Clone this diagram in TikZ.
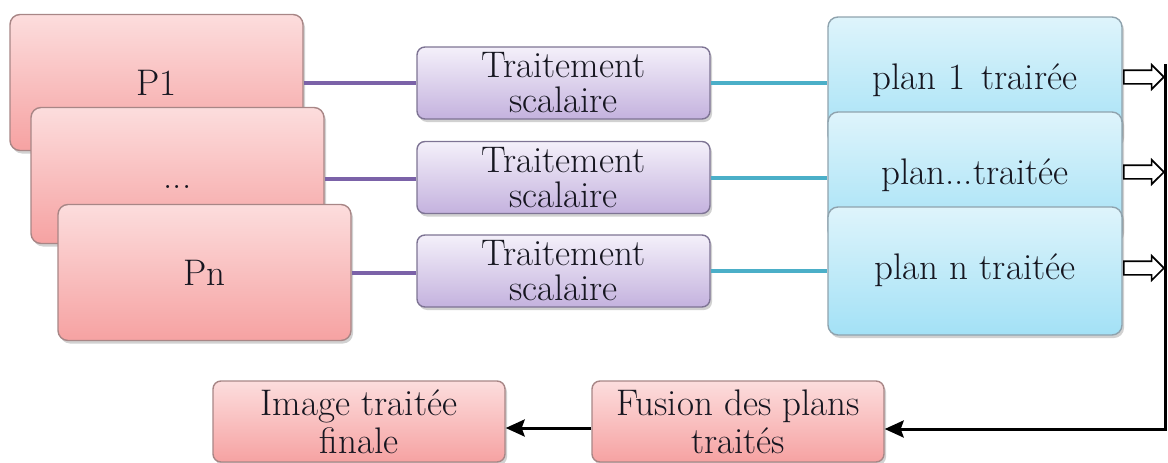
\documentclass[tikz,border=0pt]{standalone}
\usetikzlibrary{shapes.arrows,shadows,arrows.meta}

\definecolor{pinkTop}{HTML}{FCDDDD}
\definecolor{pinkBot}{HTML}{F6A2A2}
\definecolor{pinkEdge}{HTML}{A88686}
\definecolor{lilacTop}{HTML}{F4F0FA}
\definecolor{lilacBot}{HTML}{C4B2DE}
\definecolor{lilacEdge}{HTML}{7E7494}
\definecolor{skyTop}{HTML}{DEF4FB}
\definecolor{skyBot}{HTML}{A3E1F6}
\definecolor{skyEdge}{HTML}{8FA3AE}
\definecolor{violetLink}{HTML}{7B62A8}
\definecolor{tealLink}{HTML}{4BAFC8}
\definecolor{ink}{HTML}{161620}

\begin{document}
\begin{tikzpicture}[x=1pt,y=-1pt,
  box/.style={rectangle, rounded corners=10pt, line width=1.4pt, inner sep=0pt,
    text=ink, font=\rmfamily\fontsize{37}{35}\selectfont,
    drop shadow={shadow xshift=2pt, shadow yshift=-3pt, opacity=0.3, fill=black!60}},
  plane/.style={box, top color=pinkTop, bottom color=pinkBot, draw=pinkEdge,
    minimum width=293pt, minimum height=136pt, text height=26pt, text depth=0pt},
  scalar/.style={box, rounded corners=8pt, top color=lilacTop, bottom color=lilacBot,
    draw=lilacEdge, minimum width=293pt, minimum height=72pt, align=center},
  result/.style={box, top color=skyTop, bottom color=skyBot, draw=skyEdge,
    minimum width=294pt, minimum height=128pt, text height=26pt, text depth=9pt},
  finalbox/.style={box, rounded corners=8pt, top color=pinkTop, bottom color=pinkBot,
    draw=pinkEdge, minimum width=292pt, minimum height=81pt, align=center,
    font=\rmfamily\fontsize{37}{38}\selectfont},
  hollowarrow/.style={single arrow, draw=black, fill=white, line width=1.6pt,
    minimum height=40pt, inner xsep=0pt, inner ysep=6pt,
    single arrow head extend=5.5pt},
  violetwire/.style={draw=violetLink, line width=4pt},
  tealwire/.style={draw=tealLink, line width=4pt},
  flow/.style={draw=black, line width=3pt,
    -{Stealth[length=19pt,width=17pt,inset=3pt]}}
]
\useasboundingbox (0,0) rectangle (1168,463);

% input planes, stacked
\node[plane] (p1) at (156.5,82.5) {P1};
\node[plane] (pdots) at (177.5,175.5) {...};
\node[plane] (pn) at (204.5,272.5) {Pn};

% scalar processing of each plane
\node[scalar] (t1) at (563.5,83) {Traitement\\scalaire};
\node[scalar] (t2) at (563.5,177.5) {Traitement\\scalaire};
\node[scalar] (t3) at (563.5,271) {Traitement\\scalaire};

% processed planes, stacked
\node[result] (b1) at (975,81) {plan 1\hspace{0.45em}trairée};
\node[result] (b2) at (975,176) {plan...traitée};
\node[result] (b3) at (975,271) {plan n traitée};

% merging and final image
\node[finalbox] (fusion) at (738,421.5) {Fusion des plans\\traités};
\node[finalbox] (img) at (359,421.5) {Image traitée\\finale};

% links plane -> scalar processing -> processed plane
\draw[violetwire] (p1.east) -- (p1.east -| t1.west);
\draw[violetwire] ([yshift=-3pt]pdots.east) -- ([yshift=-3pt]pdots.east -| t2.west);
\draw[violetwire] (pn.east) -- (pn.east -| t3.west);
\draw[tealwire] (t1.east) -- (t1.east -| b1.west);
\draw[tealwire] (t2.east) -- (t2.east -| b2.west);
\draw[tealwire] (t3.east) -- (t3.east -| b3.west);

% collecting bus to the merge step
\coordinate (spinetop) at (1165,64);
\coordinate (spinecorner) at (1165,429);
\draw[flow] (spinetop) -- (spinecorner) -- (spinecorner -| fusion.east);
\draw[flow] ([yshift=-6.5pt]fusion.west) -- ([yshift=-6.5pt]img.east);

% hollow arrows feeding the bus
\node[hollowarrow, anchor=tip] (h1) at ([yshift=4pt]b1.east -| spinetop) {};
\node[hollowarrow, anchor=tip] (h2) at ([yshift=4pt]b2.east -| spinetop) {};
\node[hollowarrow, anchor=tip] (h3) at ([yshift=3pt]b3.east -| spinetop) {};
\end{tikzpicture}
\end{document}
